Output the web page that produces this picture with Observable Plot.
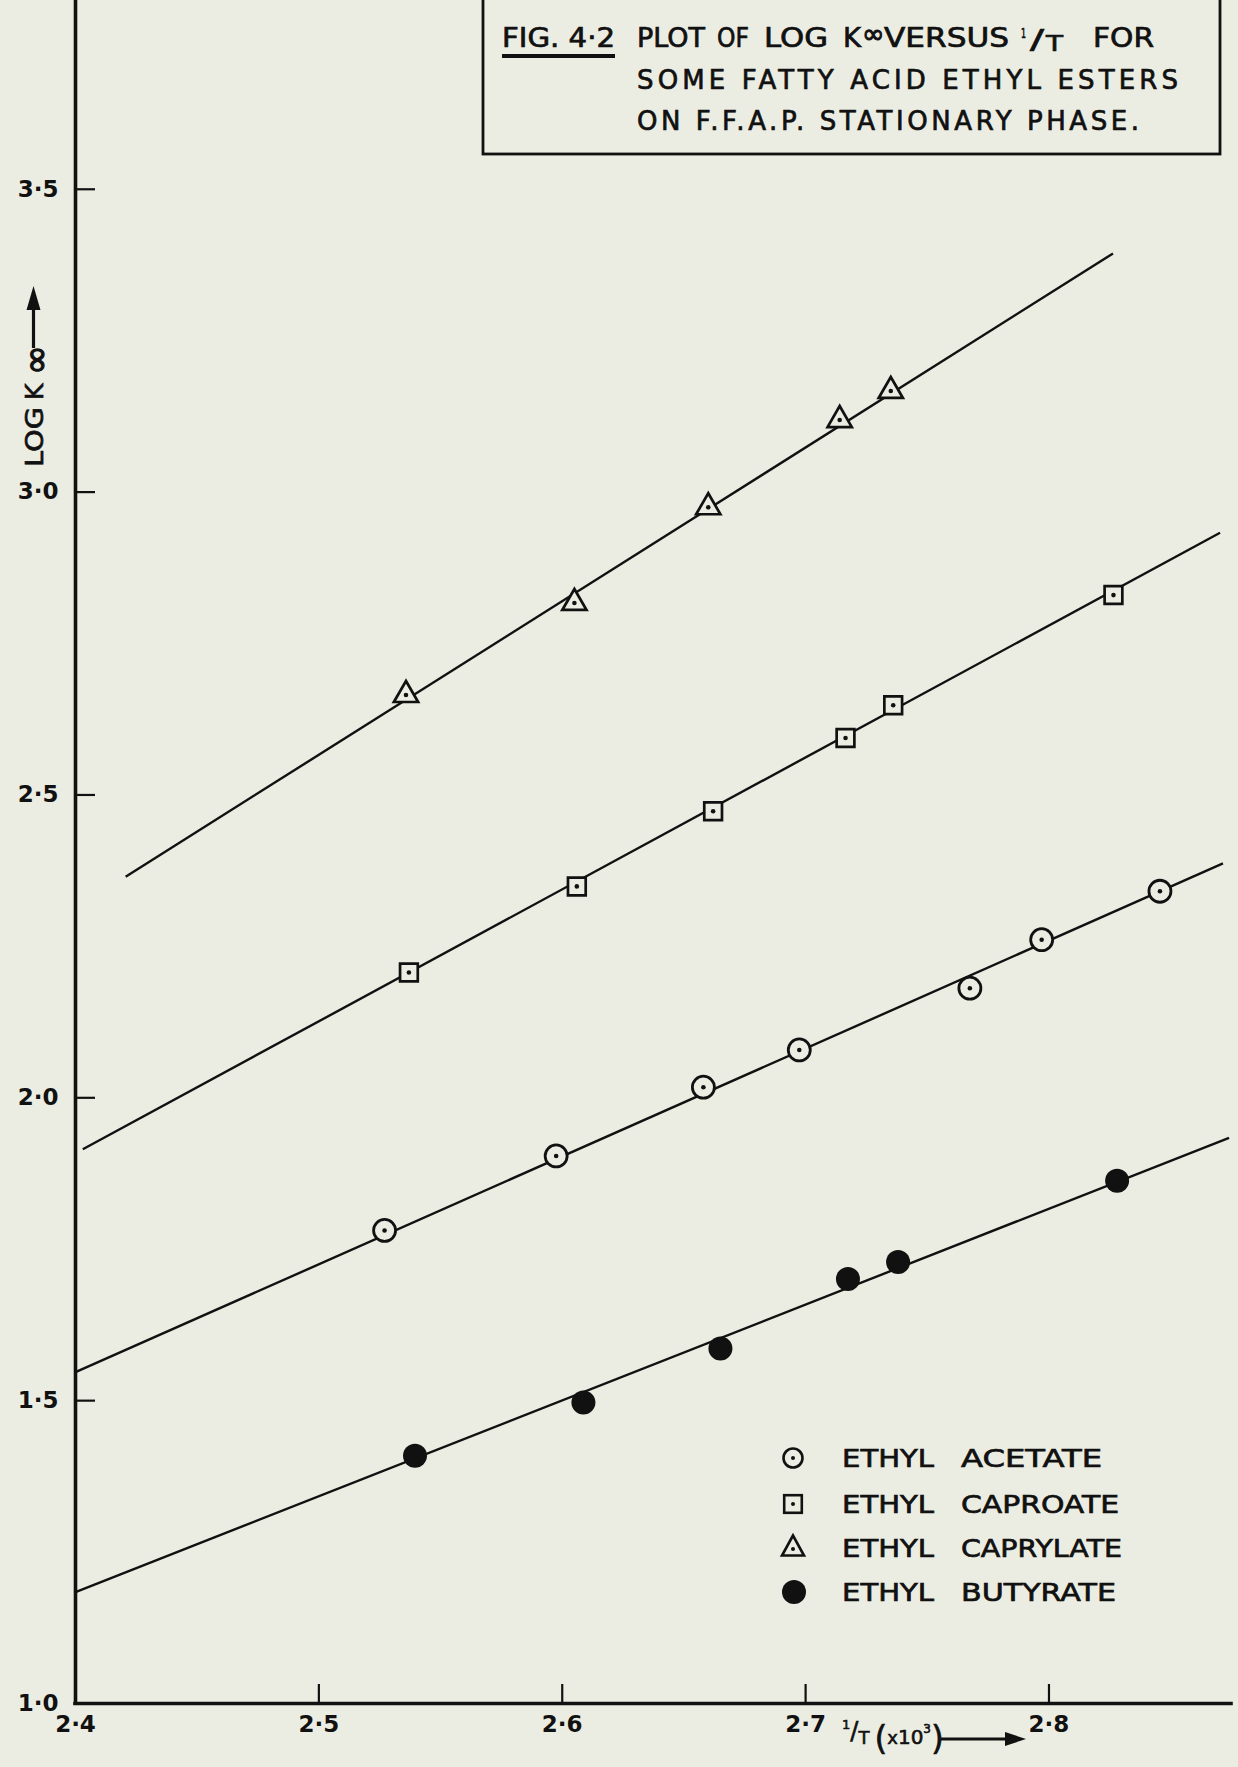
<!DOCTYPE html>
<html><head><meta charset="utf-8">
<script src="https://cdn.jsdelivr.net/npm/d3@7"></script>
<script src="https://cdn.jsdelivr.net/npm/@observablehq/plot@0.6"></script>
<style>
html,body{margin:0;padding:0;background:#ECEDE2;}
#wrap{position:relative;width:1238px;height:1767px;overflow:hidden;background:#ECEDE2;}
#wrap > svg{display:block;}
#overlay{position:absolute;left:0;top:0;pointer-events:none;}
</style></head><body><div id="wrap"></div>
<script>
// ---------- data ----------
const xTicks = [2.4, 2.5, 2.6, 2.7, 2.8];
const yTicks = [1.0, 1.5, 2.0, 2.5, 3.0, 3.5];
const seriesNames = ["ETHYL ACETATE", "ETHYL CAPROATE", "ETHYL CAPRYLATE", "ETHYL BUTYRATE"];

const acetateX   = [2.527, 2.5975, 2.658, 2.6974, 2.7675, 2.797, 2.8456];
const acetateY   = [1.781, 1.904, 2.0175, 2.079, 2.181, 2.261, 2.341];
const caproateX  = [2.537, 2.606, 2.662, 2.7164, 2.736, 2.8265];
const caproateY  = [2.207, 2.349, 2.473, 2.594, 2.648, 2.830];
const caprylateX = [2.5358, 2.605, 2.660, 2.714, 2.735];
const caprylateY = [2.665, 2.817, 2.975, 3.119, 3.167];
const butyrateX  = [2.5395, 2.6087, 2.665, 2.7174, 2.738, 2.828];
const butyrateY  = [1.409, 1.497, 1.586, 1.701, 1.729, 1.863];

// fitted straight lines (end points)
const fitX1 = [2.400, 2.403, 2.4206, 2.400];
const fitY1 = [1.547, 1.915, 2.365, 1.184];
const fitX2 = [2.8715, 2.8703, 2.8263, 2.874];
const fitY2 = [2.387, 2.933, 3.394, 1.934];

// ---------- build ----------
const INK = "#111111", BG = "#ECEDE2";
const zip = (xs, ys) => xs.map((x, i) => ({x, y: ys[i]}));
const acetate = zip(acetateX, acetateY);
const caproate = zip(caproateX, caproateY);
const caprylate = zip(caprylateX, caprylateY);
const butyrate = zip(butyrateX, butyrateY);
const fits = seriesNames.map((s, i) => ({s, x1: fitX1[i], y1: fitY1[i], x2: fitX2[i], y2: fitY2[i]}));

const W = 1238, H = 1767, mL = 75, mR = 7, mT = 1, mB = 64;
const xDom = [2.4, 2.875], yDom = [1.0, 3.81];
const pxX = (W - mL - mR) / (xDom[1] - xDom[0]);
const pxY = (H - mT - mB) / (yDom[1] - yDom[0]);
const fmt = d => d.toFixed(1).replace(".", "\u00B7");

const chart = Plot.plot({
  width: W, height: H,
  marginLeft: mL, marginRight: mR, marginTop: mT, marginBottom: mB,
  x: {domain: xDom, axis: null},
  y: {domain: yDom, axis: null},
  style: {background: "transparent", color: INK, fontFamily: "DejaVu Sans, sans-serif"},
  marks: [
    Plot.axisX(xTicks, {tickSize: 0, tickPadding: 12, tickFormat: fmt, fontSize: 23, fontWeight: "bold", fill: INK}),
    Plot.axisY(yTicks, {tickSize: 0, tickPadding: 17, tickFormat: fmt, fontSize: 23, fontWeight: "bold", fill: INK}),
    Plot.ruleY(yTicks.filter(d => d > yDom[0]), {y: d => d, x1: xDom[0], x2: xDom[0] + 20 / pxX, stroke: INK, strokeWidth: 2.2}),
    Plot.ruleX(xTicks.filter(d => d > xDom[0]), {x: d => d, y1: yDom[0], y2: yDom[0] + 19 / pxY, stroke: INK, strokeWidth: 2.2}),
    Plot.ruleX([xDom[0]], {y1: yDom[0], y2: yDom[1], stroke: INK, strokeWidth: 3.6, strokeLinecap: "square"}),
    Plot.ruleY([yDom[0]], {x1: xDom[0], x2: xDom[1], stroke: INK, strokeWidth: 3.6, strokeLinecap: "square"}),
    Plot.link(fits, {x1: "x1", y1: "y1", x2: "x2", y2: "y2", stroke: INK, strokeWidth: 2.4}),
    Plot.dot(acetate, {x: "x", y: "y", r: 11, fill: BG, stroke: INK, strokeWidth: 2.8}),
    Plot.dot(acetate, {x: "x", y: "y", r: 2.3, fill: INK}),
    Plot.dot(caproate, {x: "x", y: "y", symbol: "square", r: 10, fill: BG, stroke: INK, strokeWidth: 2.7}),
    Plot.dot(caproate, {x: "x", y: "y", r: 2.3, fill: INK}),
    Plot.dot(caprylate, {x: "x", y: "y", symbol: "triangle", r: 9, fill: BG, stroke: INK, strokeWidth: 2.7}),
    Plot.dot(caprylate, {x: "x", y: "y", r: 2.3, fill: INK}),
    Plot.dot(butyrate, {x: "x", y: "y", r: 12, fill: INK})
  ]
});
const wrap = document.getElementById("wrap");
wrap.appendChild(chart);

// ---------- overlay annotations (title box, legend, axis labels) ----------
const T = (s, x, y, w, size, adj = "spacingAndGlyphs") =>
  `<text x="${x}" y="${y}" font-size="${size}"${w ? ` textLength="${w}" lengthAdjust="${adj}"` : ""}>${s}</text>`;

const secondWords = seriesNames.map(s => s.split(" ")[1]);
const legendRows = [1458, 1504, 1547.5, 1592];
const legendSecondW = [141, 158, 161, 155];

let svg = `<svg id="overlay" width="${W}" height="${H}" xmlns="http://www.w3.org/2000/svg" font-family="DejaVu Sans, sans-serif">`;
// title box
svg += `<rect x="483" y="-4" width="737" height="158" fill="none" stroke="${INK}" stroke-width="2.8"/>`;
svg += `<g fill="${INK}" stroke="${INK}" stroke-width="0.7">`;
const b1 = 46.5, b2 = 88.5, b3 = 129.5, fs = 26;
svg += T("FIG. 4\u00B72", 502, b1, 113, fs);
svg += T("PLOT", 637, b1, 68, fs) + T("OF", 717, b1, 32, fs) + T("LOG", 764, b1, 64, fs);
svg += T("K", 843, b1, 18, fs);
svg += `<text x="862" y="${b1 - 4}" font-size="27" stroke-width="1">\u221E</text>`;
svg += T("VERSUS", 884, b1, 125, fs);
svg += T("1", 1021, b1 - 9, 5, 14) + T("/", 1030, b1 + 2, 14, fs) + T("T", 1046, b1 + 4, 17, 22) + T("FOR", 1093, b1, 61, fs);
svg += T("SOME FATTY ACID ETHYL ESTERS", 637, b2, 541, fs, "spacing");
svg += T("ON F.F.A.P. STATIONARY PHASE.", 637, b3, 502, fs, "spacing");
svg += `</g>`;
svg += `<line x1="502" y1="56" x2="615" y2="56" stroke="${INK}" stroke-width="3.8"/>`;

// legend
svg += `<g fill="${INK}" stroke="${INK}" stroke-width="0.7">`;
legendRows.forEach((cy, i) => {
  svg += T("ETHYL", 842, cy + 9, 92, 25);
  svg += T(secondWords[i], 961, cy + 9, legendSecondW[i], 25);
});
svg += `</g>`;
const lx = 793;
svg += `<circle cx="${lx}" cy="${legendRows[0]}" r="9.5" fill="${BG}" stroke="${INK}" stroke-width="2.6"/><circle cx="${lx}" cy="${legendRows[0]}" r="2" fill="${INK}"/>`;
svg += `<rect x="${lx - 8.8}" y="${legendRows[1] - 8.8}" width="17.6" height="17.6" fill="${BG}" stroke="${INK}" stroke-width="2.6"/><circle cx="${lx}" cy="${legendRows[1]}" r="2" fill="${INK}"/>`;
const ty = legendRows[2];
svg += `<polygon points="${lx},${ty - 12} ${lx - 11},${ty + 8} ${lx + 11},${ty + 8}" fill="${BG}" stroke="${INK}" stroke-width="2.6" stroke-linejoin="miter"/><circle cx="${lx}" cy="${ty + 1.5}" r="2" fill="${INK}"/>`;
svg += `<circle cx="${lx + 1}" cy="${legendRows[3]}" r="12" fill="${INK}"/>`;

// x axis label: 1/T (x10^3) -> as one flowing text
svg += `<text x="842" y="1729" fill="${INK}" stroke="${INK}" stroke-width="0.6">`
  + `<tspan font-size="13">1</tspan>`
  + `<tspan font-size="24" dy="10">/</tspan>`
  + `<tspan font-size="18" dy="5">T</tspan>`
  + `<tspan font-size="33" dx="5" dy="6">(</tspan>`
  + `<tspan font-size="18" dy="-6">x</tspan>`
  + `<tspan font-size="20">10</tspan>`
  + `<tspan font-size="12" dy="-11">3</tspan>`
  + `<tspan font-size="33" dy="17">)</tspan>`
  + `</text>`;
svg += `<line x1="941" y1="1739" x2="1012" y2="1739" stroke="${INK}" stroke-width="3.2"/>`;
svg += `<polygon points="1005,1732 1026,1739 1005,1746" fill="${INK}"/>`;

// y axis label: LOG K∞ ->
svg += `<g transform="translate(43,467) rotate(-90)">`;
svg += `<text fill="${INK}" stroke="${INK}" stroke-width="0.7">`
  + `<tspan x="0" y="0" font-size="25" textLength="60" lengthAdjust="spacingAndGlyphs">LOG</tspan>`
  + `<tspan x="67" y="0" font-size="25">K</tspan>`
  + `<tspan x="92" y="5" font-size="36" stroke-width="1.2">\u221E</tspan>`
  + `</text>`;
svg += `<line x1="119" y1="-9.5" x2="162" y2="-9.5" stroke="${INK}" stroke-width="3.2"/>`;
svg += `<polygon points="157,-16.5 181,-9.5 157,-2.5" fill="${INK}"/>`;
svg += `</g>`;

svg += `</svg>`;
wrap.insertAdjacentHTML("beforeend", svg);
</script></body></html>
